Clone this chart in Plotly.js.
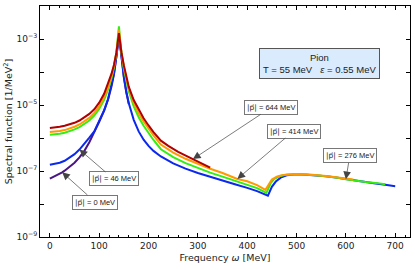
<!DOCTYPE html>
<html><head><meta charset="utf-8">
<script src="https://cdn.plot.ly/plotly-3.0.1.min.js"></script>
<style>html,body{margin:0;padding:0;background:#fff}#chart{width:415px;height:270px}</style>
</head><body><div id="chart"></div>
<script>
// Frequency grids (MeV) and log10 of the spectral function (1/MeV^2)
const omegaP0 = [0,10,20,25,30,40,50,60,70,80,90,100,110,118,125,130,135,138,140,142,145,150,155,160];
const logP0 = [-7.23,-7.16,-7.08,-7.04,-6.99,-6.88,-6.75,-6.59,-6.39,-6.13,-5.84,-5.51,-5.17,-4.83,-4.43,-4.06,-3.52,-3.12,-2.90,-3.12,-3.57,-4.17,-4.62,-4.97];

const omegaP46 = [0,10,20,30,40,50,60,70,80,90,100,110,118,125,130,135,138,140,142,145,150,155,160,170,180,190,200,210,225,250,275,300,325,350,375,400,420,442,446,450,458,468,480,500,520,540,560,580,600,620,640,660,680,700];
const logP46 = [-6.81,-6.79,-6.75,-6.69,-6.60,-6.49,-6.35,-6.18,-5.99,-5.80,-5.50,-5.16,-4.82,-4.42,-4.05,-3.50,-3.10,-2.88,-3.10,-3.55,-4.15,-4.60,-4.95,-5.45,-5.80,-6.05,-6.24,-6.39,-6.56,-6.77,-6.93,-7.06,-7.18,-7.29,-7.40,-7.51,-7.61,-7.75,-7.62,-7.48,-7.32,-7.20,-7.13,-7.10,-7.11,-7.13,-7.16,-7.20,-7.25,-7.29,-7.34,-7.38,-7.42,-7.46];

const omegaP276 = [0,10,20,30,40,50,60,70,80,90,100,110,118,125,130,135,138,140,142,145,150,155,160,170,180,190,200,210,225,250,275,300,325,350,375,400,420,439,443,448,455,465,480,500,520,540,560,580,600,615,625,640,660,680];
const logP276 = [-5.90,-5.89,-5.87,-5.84,-5.80,-5.74,-5.67,-5.58,-5.47,-5.32,-5.12,-4.84,-4.53,-4.18,-3.86,-3.40,-2.95,-2.62,-2.95,-3.40,-3.90,-4.26,-4.58,-5.04,-5.37,-5.63,-5.86,-6.06,-6.34,-6.58,-6.76,-6.91,-7.05,-7.17,-7.29,-7.41,-7.52,-7.66,-7.50,-7.36,-7.24,-7.16,-7.11,-7.10,-7.11,-7.13,-7.16,-7.20,-7.25,-7.28,-7.32,-7.33,-7.36,-7.40];

const omegaP414 = [0,10,20,30,40,50,60,70,80,90,100,110,118,125,130,135,138,140,142,145,150,155,160,170,180,190,200,210,225,250,275,300,325,350,380,400,420,437,441,445,450,460,470,485,500,520,540,560,580,600,615];
const logP414 = [-5.82,-5.81,-5.79,-5.76,-5.72,-5.66,-5.59,-5.50,-5.39,-5.24,-5.04,-4.76,-4.46,-4.12,-3.82,-3.40,-3.00,-2.72,-3.00,-3.40,-3.85,-4.18,-4.50,-4.93,-5.25,-5.50,-5.72,-5.92,-6.20,-6.44,-6.63,-6.79,-6.93,-7.06,-7.24,-7.31,-7.43,-7.57,-7.46,-7.35,-7.26,-7.17,-7.13,-7.10,-7.09,-7.10,-7.12,-7.15,-7.19,-7.23,-7.26];

const omegaP644 = [0,10,20,30,40,50,60,70,80,90,100,110,118,125,130,135,138,140,142,145,150,155,160,170,180,190,200,210,225,240,260,290,300,325];
const logP644 = [-5.70,-5.69,-5.66,-5.63,-5.59,-5.54,-5.47,-5.38,-5.27,-5.13,-4.93,-4.66,-4.36,-4.05,-3.78,-3.40,-3.05,-2.82,-3.05,-3.40,-3.80,-4.12,-4.45,-4.85,-5.15,-5.40,-5.62,-5.82,-6.08,-6.24,-6.42,-6.64,-6.70,-6.90];

const seriesNames = ['|p| = 0 MeV','|p| = 46 MeV','|p| = 276 MeV','|p| = 414 MeV','|p| = 644 MeV'];
const seriesColors = ['#4a1486','#0a28ee','#33ee11','#ff9900','#b00000'];

const yLabelExp = [-9,-7,-5,-3];
const yLabelText = ['10<sup>−9</sup>','10<sup>−7</sup>','10<sup>−5</sup>','10<sup>−3</sup>'];
const yMinorExp = [-8,-6,-4,-2];

// label boxes
const momentumLabels = ['0','46','276','414','644'];
const labelTipOmega = [25, 60, 600, 380, 290];
const labelBoxOmega = [92, 129, 608, 494, 449];
const labelBoxLog = [-7.94, -7.24, -6.54, -5.79, -5.07];

const infoText = 'Pion<br>T = 55 MeV\u00A0\u00A0\u00A0<i>ε</i> = 0.55 MeV';
const infoOmega = 547, infoLog = -3.75;

const xs = [omegaP0, omegaP46, omegaP276, omegaP414, omegaP644];
const ys = [logP0, logP46, logP276, logP414, logP644];

const traces = xs.map((x, i) => ({
  x: x, y: ys[i].map(v => Math.pow(10, v)), type: 'scatter', mode: 'lines',
  name: seriesNames[i], line: {color: seriesColors[i], width: 2}, showlegend: false
}));

const annotations = [];
momentumLabels.forEach((m, i) => {
  const k = xs[i].indexOf(labelTipOmega[i]);
  annotations.push({
    x: xs[i][k], y: ys[i][k], xref: 'x', yref: 'y', axref: 'x', ayref: 'y',
    ax: labelBoxOmega[i], ay: labelBoxLog[i],
    text: '<span style="font-family:DejaVu Sans">|p\u20D7|</span> = ' + m + ' MeV',
    showarrow: true,
    arrowhead: 2, arrowsize: 2.2, arrowwidth: 0.7, arrowcolor: '#444',
    font: {family: 'Liberation Sans, Arial', size: 7.5, color: '#222'},
    bgcolor: '#fff', bordercolor: '#777', borderwidth: 1, borderpad: 2
  });
});
annotations.push({
  x: infoOmega, y: infoLog, xref: 'x', yref: 'y', text: infoText, showarrow: false,
  font: {family: 'Liberation Sans, Arial', size: 9.5, color: '#222'},
  bgcolor: '#d9ebfd', bordercolor: '#555', borderwidth: 1, borderpad: 3
});

const layout = {
  width: 415, height: 270,
  margin: {l: 40, r: 5, t: 6, b: 33},
  paper_bgcolor: '#fff', plot_bgcolor: '#fff',
  font: {family: 'DejaVu Sans, Verdana', size: 9, color: '#222'},
  xaxis: {
    range: [-20, 730], tick0: 0, dtick: 100, ticks: 'inside', ticklen: 4, tickcolor: '#000',
    showline: true, linecolor: '#000', linewidth: 1, mirror: 'allticks', showgrid: false, zeroline: false,
    minor: {dtick: 20, tick0: 0, ticks: 'inside', ticklen: 2, tickcolor: '#000', showgrid: false},
    title: {text: 'Frequency <i>ω</i> [MeV]', font: {size: 9.5}, standoff: 4},
    tickfont: {size: 9}
  },
  yaxis: {
    type: 'log', range: [-9, -2],
    tickmode: 'array', tickvals: yLabelExp.map(e => Math.pow(10, e)), ticktext: yLabelText,
    ticks: 'inside', ticklen: 4, tickcolor: '#000',
    minor: {tickmode: 'array', tickvals: yMinorExp.map(e => Math.pow(10, e)), ticks: 'inside', ticklen: 4, tickcolor: '#000', showgrid: false},
    showline: true, linecolor: '#000', linewidth: 1, mirror: 'allticks', showgrid: false, zeroline: false,
    title: {text: 'Spectral function [1/MeV<sup>2</sup>]', font: {size: 9.5}, standoff: 2},
    tickfont: {size: 9}
  },
  annotations: annotations
};
Plotly.newPlot('chart', traces, layout, {staticPlot: true});
</script></body></html>
